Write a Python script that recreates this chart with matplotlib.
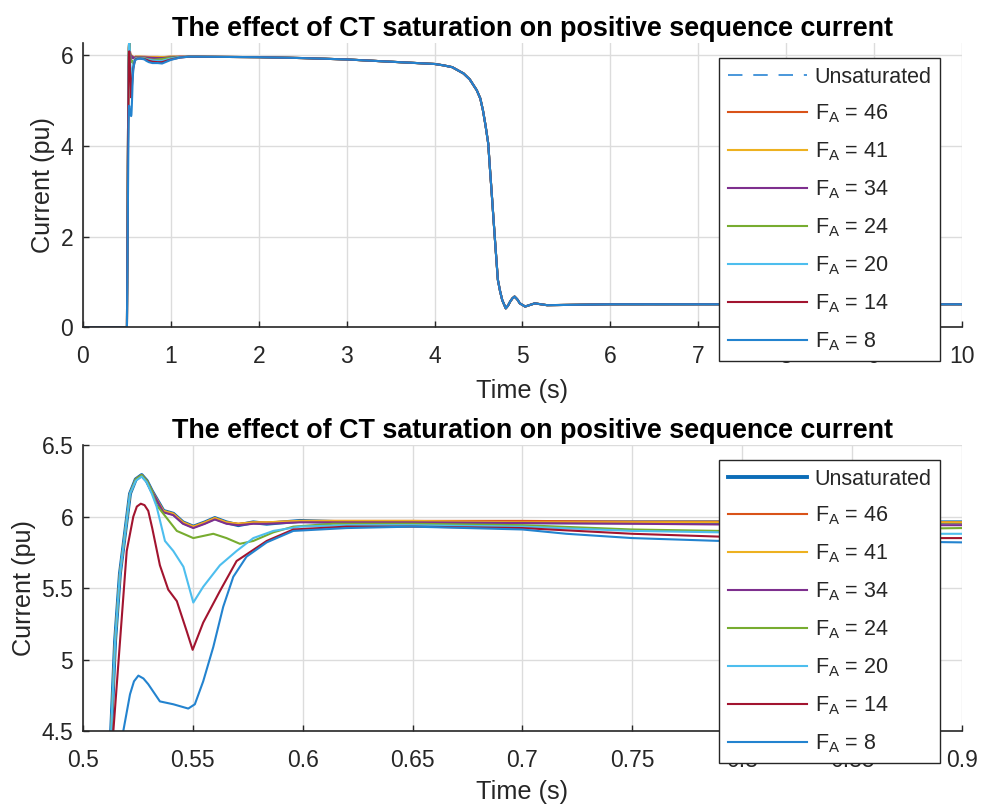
import matplotlib
matplotlib.use("Agg")
import matplotlib.pyplot as plt
from matplotlib.ticker import FuncFormatter

plt.rcParams['font.family'] = ['Liberation Sans', 'DejaVu Sans']

# ---- data ----
# every curve starts at zero until the fault at 0.5 s
t_head = [0.0, 0.5]
v_head = [0.0, 0.0]

# after ~1.3 s all curves lie on top of each other
t_tail = [1.3, 2.0, 2.5, 3.0, 3.4, 4.0, 4.1, 4.2, 4.33, 4.4, 4.48, 4.52, 4.55, 4.58, 4.61,
          4.63, 4.65, 4.67, 4.69, 4.72, 4.745, 4.77, 4.81, 4.835, 4.86, 4.885, 4.91, 4.94,
          4.97, 5.03, 5.14, 5.28, 6.0, 10.0]
v_tail = [5.97, 5.96, 5.94, 5.91, 5.87, 5.81, 5.78, 5.74, 5.60, 5.47, 5.23, 5.05, 4.79, 4.45, 4.06,
          3.50, 2.96, 2.40, 1.85, 1.05, 0.80, 0.60, 0.42, 0.48, 0.57, 0.64, 0.68, 0.62,
          0.53, 0.46, 0.53, 0.49, 0.51, 0.51]

# transient part, unsaturated CT and the lightly saturated ones
t_close = [0.5146, 0.5168, 0.5214, 0.5240, 0.5267, 0.5290, 0.5313, 0.5366, 0.5411, 0.5455,
           0.5502, 0.5555, 0.5600, 0.5653, 0.5707, 0.5775, 0.5836, 0.5987, 0.62, 0.65, 0.70,
           0.75, 0.79, 0.85, 0.90, 1.0, 1.1, 1.2]
v_unsat = [5.13, 5.60, 6.16, 6.26, 6.29, 6.25, 6.18, 6.04, 6.02, 5.96,
           5.93, 5.96, 5.99, 5.96, 5.94, 5.96, 5.95, 5.97, 5.96, 5.96, 5.96,
           5.96, 5.96, 5.96, 5.96, 5.97, 5.97, 5.97]
v_fa46 = [5.13, 5.60, 6.16, 6.26, 6.29, 6.25, 6.18, 6.04, 6.02, 5.96,
          5.93, 5.96, 5.99, 5.96, 5.95, 5.96, 5.96, 5.97, 5.97, 5.97, 5.97,
          5.965, 5.965, 5.965, 5.96, 5.97, 5.97, 5.97]
v_fa41 = [5.13, 5.60, 6.16, 6.26, 6.29, 6.25, 6.18, 6.04, 6.02, 5.96,
          5.93, 5.96, 5.99, 5.96, 5.95, 5.96, 5.96, 5.97, 5.97, 5.97, 5.96,
          5.96, 5.96, 5.96, 5.96, 5.97, 5.97, 5.97]
v_fa34 = [5.13, 5.60, 6.16, 6.26, 6.29, 6.25, 6.18, 6.03, 6.01, 5.95,
          5.92, 5.95, 5.98, 5.95, 5.94, 5.95, 5.95, 5.96, 5.96, 5.96, 5.955,
          5.95, 5.945, 5.94, 5.94, 5.96, 5.97, 5.97]

t_fa24 = [0.5146, 0.5168, 0.5214, 0.5240, 0.5267, 0.5290, 0.5313, 0.5335, 0.5381, 0.5427,
          0.5502, 0.5593, 0.5653, 0.5714, 0.5775, 0.5866, 0.5957, 0.6139, 0.65, 0.70,
          0.75, 0.79, 0.85, 0.90, 1.0, 1.1, 1.2]
v_fa24 = [5.13, 5.60, 6.16, 6.26, 6.29, 6.25, 6.18, 6.08, 5.99, 5.90,
          5.85, 5.88, 5.85, 5.81, 5.83, 5.89, 5.93, 5.95, 5.95, 5.94,
          5.91, 5.90, 5.91, 5.92, 5.95, 5.96, 5.97]

t_fa20 = [0.5146, 0.5168, 0.5214, 0.5240, 0.5267, 0.5290, 0.5313, 0.5335, 0.5373, 0.5411,
          0.5457, 0.5502, 0.5547, 0.5623, 0.5699, 0.5775, 0.5866, 0.5987, 0.62, 0.65,
          0.70, 0.75, 0.79, 0.85, 0.90, 1.0, 1.1, 1.2]
v_fa20 = [5.13, 5.60, 6.16, 6.25, 6.28, 6.24, 6.16, 6.07, 5.83, 5.76,
          5.65, 5.40, 5.51, 5.66, 5.76, 5.85, 5.90, 5.93, 5.94, 5.94,
          5.93, 5.90, 5.89, 5.88, 5.88, 5.93, 5.96, 5.97]

t_fa14 = [0.5138, 0.5199, 0.5229, 0.5245, 0.5263, 0.5280, 0.5297, 0.5315, 0.5350, 0.5388,
          0.5427, 0.5472, 0.5499, 0.5547, 0.5623, 0.5699, 0.5836, 0.5957, 0.62, 0.65,
          0.70, 0.75, 0.79, 0.85, 0.90, 1.0, 1.1, 1.2]
v_fa14 = [4.50, 5.76, 6.00, 6.07, 6.09, 6.08, 6.04, 5.92, 5.66, 5.49,
          5.41, 5.20, 5.07, 5.26, 5.48, 5.69, 5.83, 5.91, 5.93, 5.93,
          5.92, 5.88, 5.86, 5.85, 5.85, 5.91, 5.95, 5.97]

t_fa8 = [0.5183, 0.5214, 0.5232, 0.5252, 0.5275, 0.5297, 0.5350, 0.5411, 0.5479, 0.5509,
         0.5547, 0.5593, 0.5638, 0.5684, 0.5744, 0.5836, 0.5957, 0.62, 0.65, 0.70,
         0.72, 0.75, 0.79, 0.85, 0.90, 1.0, 1.1, 1.2]
v_fa8 = [4.50, 4.76, 4.85, 4.89, 4.87, 4.83, 4.71, 4.69, 4.66, 4.69,
         4.85, 5.09, 5.37, 5.58, 5.72, 5.82, 5.90, 5.92, 5.93, 5.91,
         5.88, 5.85, 5.83, 5.83, 5.82, 5.90, 5.95, 5.97]

labels = ['Unsaturated'] + [r'$\mathregular{F_A}$ = ' + s for s in ['46', '41', '34', '24', '20', '14', '8']]
colors = ['#0B6DB8', '#D95319', '#EDB120', '#7E2F8E', '#77AC30', '#4DBEEE', '#A2142F', '#2383CF']

series = [(t_close, v_unsat), (t_close, v_fa46), (t_close, v_fa41), (t_close, v_fa34),
          (t_fa24, v_fa24), (t_fa20, v_fa20), (t_fa14, v_fa14), (t_fa8, v_fa8)]

TXT = '#262626'
title = 'The effect of CT saturation on positive sequence current'

fig = plt.figure(figsize=(9.81, 8.08), dpi=100)
ax1 = fig.add_axes([0.0846, 0.5948, 0.896, 0.3524])
ax2 = fig.add_axes([0.0846, 0.0947, 0.896, 0.3546])

for k, (t, v) in enumerate(series):
    tt = t_head + t + t_tail
    vv = v_head + v + v_tail
    if k == 0:
        ax1.plot(tt, vv, color='#3A8FD8', lw=1.3, dashes=(8, 6), label=labels[k])
        ax2.plot(tt, vv, color=colors[k], lw=2.8, label=labels[k])
    else:
        ax1.plot(tt, vv, color=colors[k], lw=1.5, label=labels[k])
        ax2.plot(tt, vv, color=colors[k], lw=1.5, label=labels[k])

ax1.set_xlim(0, 10)
ax1.set_ylim(0, 6.28)
ax1.set_xticks(range(0, 11))
ax1.set_yticks([0, 2, 4, 6])

ax2.set_xlim(0.5, 0.9)
ax2.set_ylim(4.5, 6.5)
ax2.set_xticks([0.5, 0.55, 0.6, 0.65, 0.7, 0.75, 0.8, 0.85, 0.9])
ax2.set_yticks([4.5, 5, 5.5, 6, 6.5])

fmt = FuncFormatter(lambda x, pos: '%g' % x)
legend_top = [1 - 58 / 808, 1 - 460 / 808]
xlabel_pad = [8, 6]

for ax, ly, lp in zip((ax1, ax2), legend_top, xlabel_pad):
    ax.xaxis.set_major_formatter(fmt)
    ax.yaxis.set_major_formatter(fmt)
    ax.set_axisbelow(True)
    ax.grid(True, color='#dcdcdc', lw=1.0)
    for s in ['top', 'right']:
        ax.spines[s].set_visible(False)
    for s in ['left', 'bottom']:
        ax.spines[s].set_color(TXT)
        ax.spines[s].set_linewidth(1.2)
    ax.tick_params(direction='in', length=4.5, width=1.0, colors=TXT, labelsize=16.5)
    ax.tick_params(axis='x', pad=12.5)
    ax.tick_params(axis='y', pad=7)
    ax.set_xlabel('Time (s)', fontsize=18.2, color=TXT, labelpad=lp)
    ax.set_ylabel('Current (pu)', fontsize=18.2, color=TXT, labelpad=4)
    ax.set_title(title, fontsize=19.4, fontweight='bold', pad=5, x=0.511)
    leg = ax.legend(loc='upper left', bbox_to_anchor=(719 / 981, ly), bbox_transform=fig.transFigure,
                    borderaxespad=0, fancybox=False, edgecolor=TXT, framealpha=1,
                    fontsize=15.5, handlelength=3.7, handletextpad=0.35, labelspacing=0.71,
                    borderpad=0.4)
    leg.get_frame().set_linewidth(1.0)
    for txt in leg.get_texts():
        txt.set_color(TXT)

fig.savefig('out.png', dpi=100)
